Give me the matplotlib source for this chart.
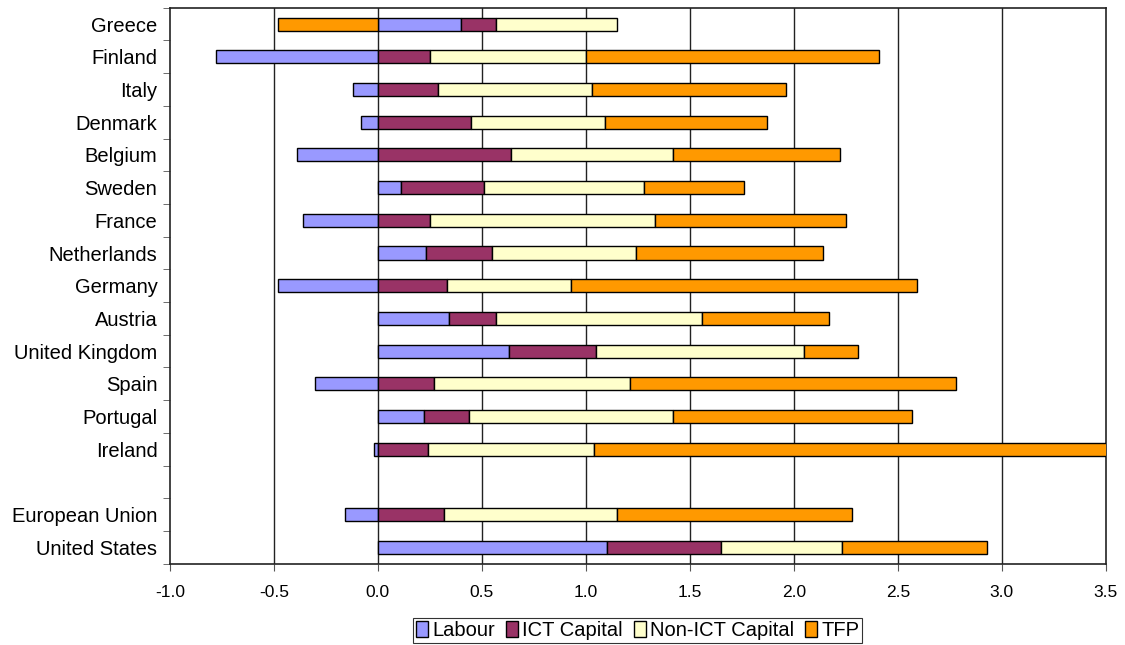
import numpy as np
import matplotlib.pyplot as plt

plt.rcParams['font.family'] = ['Liberation Sans', 'DejaVu Sans']

# -----------------------------
# Data (contributions, percentage points)
# -----------------------------
countries = ["Greece", "Finland", "Italy", "Denmark", "Belgium", "Sweden",
             "France", "Netherlands", "Germany", "Austria", "United Kingdom",
             "Spain", "Portugal", "Ireland", "", "European Union", "United States"]

nan = np.nan
labour = [0.40, -0.78, -0.12, -0.08, -0.39, 0.11, -0.36, 0.23, -0.48, 0.34,
          0.63, -0.30, 0.22, -0.02, nan, -0.16, 1.10]
ict = [0.17, 0.25, 0.29, 0.45, 0.64, 0.40, 0.25, 0.32, 0.33, 0.23,
       0.42, 0.27, 0.22, 0.24, nan, 0.32, 0.55]
non_ict = [0.58, 0.75, 0.74, 0.64, 0.78, 0.77, 1.08, 0.69, 0.60, 0.99,
           1.00, 0.94, 0.98, 0.80, nan, 0.83, 0.58]
tfp = [-0.48, 1.41, 0.93, 0.78, 0.80, 0.48, 0.92, 0.90, 1.66, 0.61,
       0.26, 1.57, 1.15, 2.60, nan, 1.13, 0.70]

series = [("Labour", labour, "#9999FF"),
          ("ICT Capital", ict, "#993366"),
          ("Non-ICT Capital", non_ict, "#FFFFCC"),
          ("TFP", tfp, "#FF9900")]

# -----------------------------
# Plot
# -----------------------------
fig = plt.figure(figsize=(11.25, 6.45), dpi=100)
ax = fig.add_axes([0.151, 0.126, 0.832, 0.862])

y = np.arange(len(countries))
pos_base = np.zeros(len(countries))
neg_base = np.zeros(len(countries))

# Stack positives to the right of zero, negatives to the left
for name, vals, col in series:
    vals = np.array(vals)
    left = np.where(vals >= 0, pos_base, neg_base)
    ax.barh(y, vals, left=left, height=0.4, color=col, edgecolor="black",
            linewidth=1.0, label=name, zorder=3, clip_on=True)
    pos_base = pos_base + np.where(vals >= 0, vals, 0)
    neg_base = neg_base + np.where(vals < 0, vals, 0)

ax.set_xlim(-1.0, 3.5)
ax.set_ylim(len(countries) - 0.5, -0.5)

# Gridlines
xt = np.arange(-1.0, 3.51, 0.5)
ax.set_xticks(xt)
ax.set_xticklabels([f"{v:.1f}" for v in xt], fontsize=12.5)
for v in xt[1:-1]:
    ax.axvline(v, color="#222222", linewidth=1.0, zorder=1)
ax.tick_params(axis="x", direction="out", length=5, pad=10, color="#555555")

# Category labels at centres, tick marks at boundaries
ax.set_yticks(y)
ax.set_yticklabels(countries, fontsize=14.5)
ax.tick_params(axis="y", length=0, pad=9)
ax.set_yticks(np.arange(-0.5, len(countries), 1.0), minor=True)
ax.tick_params(axis="y", which="minor", direction="out", length=5, color="#555555")

for s in ax.spines.values():
    s.set_color("#222222")
    s.set_linewidth(1.2)

leg = ax.legend(loc="upper center", bbox_to_anchor=(0.5, -0.097), ncol=4,
                frameon=True, fancybox=False, edgecolor="black", fontsize=14.5,
                handlelength=0.6, handleheight=0.9, handletextpad=0.2,
                columnspacing=0.55, borderpad=0.15, borderaxespad=0)
leg.get_frame().set_linewidth(0.8)

plt.savefig("out.png", dpi=100)
